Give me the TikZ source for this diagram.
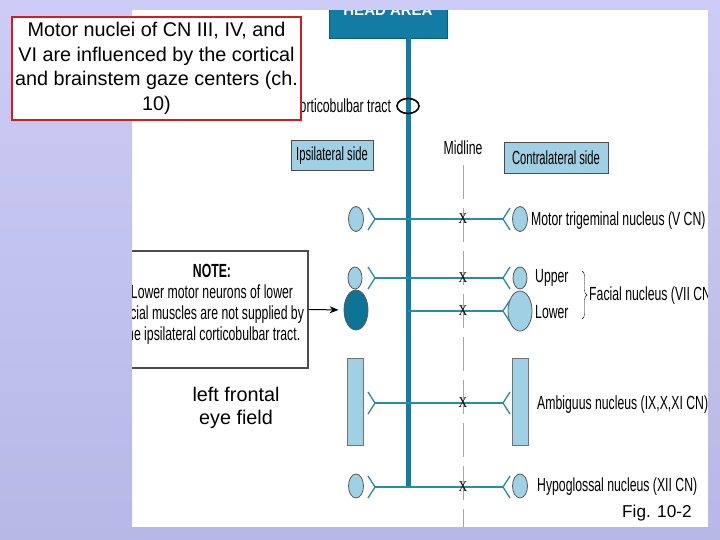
\documentclass[tikz,border=0pt]{standalone}
\usepackage{fontspec}
\setmainfont{Liberation Sans}
\newfontfamily\narrowfont[FakeStretch=0.645]{Liberation Sans}
\newfontfamily\sidefont[FakeStretch=0.59]{Liberation Sans}
\newfontfamily\xfont[FakeStretch=0.8]{Liberation Serif}
\usetikzlibrary{shapes.geometric, calc, decorations.pathreplacing, arrows.meta}

\definecolor{lavtop}{RGB}{204,204,246}
\definecolor{lavbot}{RGB}{184,184,230}
\definecolor{stemteal}{RGB}{18,124,164}
\definecolor{axonteal}{RGB}{40,140,165}
\definecolor{nucblue}{RGB}{160,208,228}
\definecolor{nucdark}{RGB}{14,116,150}
\definecolor{boxred}{RGB}{214,28,28}

\tikzset{
  nuc/.style={ellipse, draw=black!65, fill=nucblue, line width=0.8pt, inner sep=0pt},
  nucbar/.style={rectangle, draw=black!55, fill=nucblue, line width=0.8pt, inner sep=0pt,
    minimum width=16pt, minimum height=87pt},
  fork/.style={draw=axonteal, line width=1.3pt},
  axon/.style={draw=axonteal, line width=2pt},
  sidebox/.style={draw=black!70, fill=nucblue, line width=0.8pt, inner sep=0pt,
    font=\sidefont\fontsize{19}{21}\selectfont},
  lbl/.style={anchor=west, inner sep=0pt, font=\narrowfont\fontsize{19}{21}\selectfont},
  xmark/.style={inner sep=0pt, font=\xfont\fontsize{15}{15}\selectfont}
}

\begin{document}
\begin{tikzpicture}[x=1pt, y=-1pt]
  \useasboundingbox (0,0) rectangle (720,540);
  \fill[white] (132,10) rectangle (708,527);

  % head area and the descending tract
  \node[draw=nucdark!80!black, fill=stemteal, minimum width=118pt, minimum height=56pt, inner sep=0pt,
    text=white, font=\bfseries\fontsize{15}{15}\selectfont] (head) at (388,10) {HEAD AREA};
  \coordinate (stemend) at (408,487);
  \draw[stemteal, line width=5pt] (head.south -| stemend) -- (stemend);
  \node[draw, ellipse, line width=1.6pt, minimum width=22pt, minimum height=15pt, inner sep=0pt] (tract) at (408,106) {};
  \node[lbl, anchor=east] (tractlbl) at ([xshift=-5pt]tract.west) {Corticobulbar tract};

  % sides and midline
  \node[sidebox, minimum width=82pt, minimum height=30pt] (ipsi) at (332,155.5) {Ipsilateral side};
  \node[sidebox, minimum width=104pt, minimum height=31pt] (contra) at (556,158) {Contralateral side};
  \node[inner sep=0pt, font=\narrowfont\fontsize{19}{21}\selectfont] (midlbl) at (463,148) {Midline};
  \coordinate (mlbot) at (463,527);
  \draw[black!35, line width=1pt, dash pattern=on 34pt off 9pt] ([yshift=-10pt]midlbl.south) -- (mlbot);

  % nuclei, ipsilateral side
  \node[nuc, minimum width=15pt, minimum height=25pt] (l1) at (356,219) {};
  \node[nuc, minimum width=14pt, minimum height=22pt] (l2) at (355,278) {};
  \node[nuc, fill=nucdark, minimum width=24pt, minimum height=40pt] (l3) at (356,310) {};
  \node[nucbar] (l4) at (355,401.5) {};
  \node[nuc, minimum width=15pt, minimum height=24pt] (l5) at (356,486) {};
  % nuclei, contralateral side
  \node[nuc, minimum width=15pt, minimum height=25pt] (r1) at (520,219) {};
  \node[nuc, minimum width=14pt, minimum height=22pt] (r2) at (520,278) {};
  \node[nuc, minimum width=24pt, minimum height=40pt] (r3) at (520,311) {};
  \node[nucbar] (r4) at (520,401.5) {};
  \node[nuc, minimum width=15pt, minimum height=24pt] (r5) at (520,486) {};

  % synapses and fibres
  \foreach \n/\y in {1/219,2/278,4/403,5/487} {
    \coordinate (fl\n) at (375,\y);
    \draw[fork] ([shift={(-7,-11)}]fl\n) -- (fl\n) -- ([shift={(-7,11)}]fl\n);
  }
  \foreach \n/\y in {1/219,2/278,3/311,4/403,5/487} {
    \coordinate (fr\n) at (503,\y);
    \draw[fork] ([shift={(7,-11)}]fr\n) -- (fr\n) -- ([shift={(7,11)}]fr\n);
  }
  \draw[axon] (fl1) -- (fr1);
  \draw[axon] (fl2) -- (fr2);
  \draw[axon] (stemend |- fr3) -- (fr3);
  \draw[axon] (fl4) -- (fr4);
  \draw[axon] (fl5) -- (fr5);
  \foreach \y [count=\i] in {219,278,311,403,487}
    \node[xmark] (x\i) at (463,\y) {X};

  % labels of the nuclei
  \node[lbl] (trig) at (531,221) {Motor trigeminal nucleus (V CN)};
  \node[lbl] (upper) at (535,278) {Upper};
  \node[lbl] (lower) at (535,312) {Lower};
  \draw[decorate, decoration={brace, amplitude=5pt}] (582,271) -- (582,319);
  \node[lbl] (facial) at (589,296) {Facial nucleus (VII CN)};
  \node[lbl] (ambig) at (537,405) {Ambiguus nucleus (IX,X,XI CN)};
  \node[lbl] (hypo) at (537,487) {Hypoglossal nucleus (XII CN)};

  % note
  \node[draw=black!70, fill=white, line width=1.2pt, minimum width=192pt, minimum height=117pt] (note) at (212,309.5) {};
  \node[align=center, inner sep=0pt, font=\narrowfont\fontsize{19}{21}\selectfont] (notetxt) at (212,304)
    {\textbf{NOTE:}\\Lower motor neurons of lower\\facial muscles are not supplied by\\the ipsilateral corticobulbar tract.};
  \draw[-{Stealth[length=9pt, width=7pt]}, line width=1pt, shorten >=5pt] (note.east) -- (l3.west);

  \node[align=center, font=\fontsize{19.8}{23.5}\selectfont] (fef) at (236,408) {left frontal\\eye field};
  \node[anchor=base west, inner sep=0pt, font=\fontsize{17.2}{17.2}\selectfont] (fig) at (622,517) {Fig. 10-2};

  % frame round the slide
  \shade[even odd rule, top color=lavtop, bottom color=lavbot] (0,0) rectangle (720,540) (132,10) rectangle (708,527);

  \node[draw=boxred, fill=white, line width=2.5pt, minimum width=289pt, minimum height=103pt, inner sep=0pt,
    align=center, font=\fontsize{19.8}{24.5}\selectfont] (gaze) at (156.5,68.5)
    {Motor nuclei of CN III, IV, and\\VI are influenced by the cortical\\and brainstem gaze centers (ch.\\10)};
\end{tikzpicture}
\end{document}
